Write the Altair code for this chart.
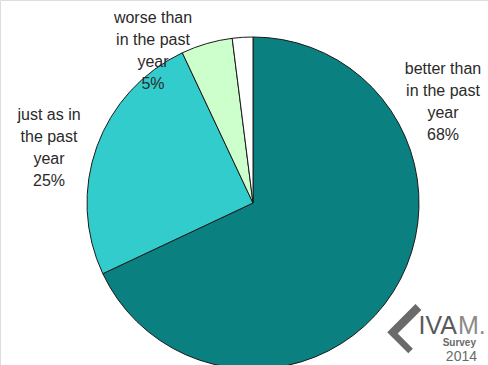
import altair as alt
import pandas as pd

categories = ["better than in the past year", "just as in the past year",
              "worse than in the past year", "no answer"]
values = [68, 25, 5, 2]
colors = ["#0b8080", "#33cccc", "#ccffcc", "#ffffff"]
label_texts = ["better than\nin the past\nyear\n68%",
               "just as in\nthe past\nyear\n25%",
               "worse than\nin the past\nyear\n5%"]

df = pd.DataFrame({"cat": categories, "val": values, "ord": list(range(len(values)))})

pie = alt.Chart(df).mark_arc(outerRadius=166, stroke="#1a1a1a", strokeWidth=1).encode(
    theta=alt.Theta("val:Q", stack=True),
    order=alt.Order("ord:Q"),
    color=alt.Color("cat:N", scale=alt.Scale(domain=categories, range=colors), legend=None),
    x=alt.value(253), y=alt.value(203),
)

lab_df = pd.DataFrame({"t": label_texts, "px": [443, 49, 153], "py": [69, 115, 18]})
labels = alt.Chart(lab_df).mark_text(
    font="Liberation Sans", fontSize=16, lineBreak="\n", lineHeight=22,
    align="center", baseline="middle", color="#2a2a2a",
).encode(text="t:N", x=alt.X("px:Q", scale=None), y=alt.Y("py:Q", scale=None))

# IVAM Survey 2014 logo
chev = alt.Chart(pd.DataFrame({"t": ["L"], "px": [409], "py": [330]})).mark_text(
    font="Liberation Sans", fontWeight="bold", fontSize=58, angle=45,
    align="center", baseline="middle", color="#6a6a6a",
).encode(text="t:N", x=alt.X("px:Q", scale=None), y=alt.Y("py:Q", scale=None))

logo_df = pd.DataFrame({
    "t": ["IVA", "M.", "Survey", "2014"],
    "px": [457, 458, 476, 477],
    "py": [326, 326, 343, 357],
    "fs": [25, 25, 10, 14],
    "al": ["right", "left", "right", "right"],
    "c": ["#5a5a5a", "#8a8a8a", "#6a6a6a", "#6a6a6a"],
})
logo_parts = []
for i in range(len(logo_df)):
    row = logo_df.iloc[[i]]
    logo_parts.append(alt.Chart(row).mark_text(
        font="Liberation Sans", align=row["al"].iloc[0], baseline="middle",
        fontSize=int(row["fs"].iloc[0]), color=row["c"].iloc[0],
        fontWeight="bold" if row["t"].iloc[0] == "Survey" else "normal",
    ).encode(text="t:N", x=alt.X("px:Q", scale=None), y=alt.Y("py:Q", scale=None)))

chart = alt.layer(pie, labels, chev, *logo_parts).properties(
    width=488, height=365, autosize=alt.AutoSizeParams(type="none"), padding=0,
).configure_view(stroke=None).configure(background="white")

chart.save("out.html", embed_options={"renderer": "svg", "actions": False})
